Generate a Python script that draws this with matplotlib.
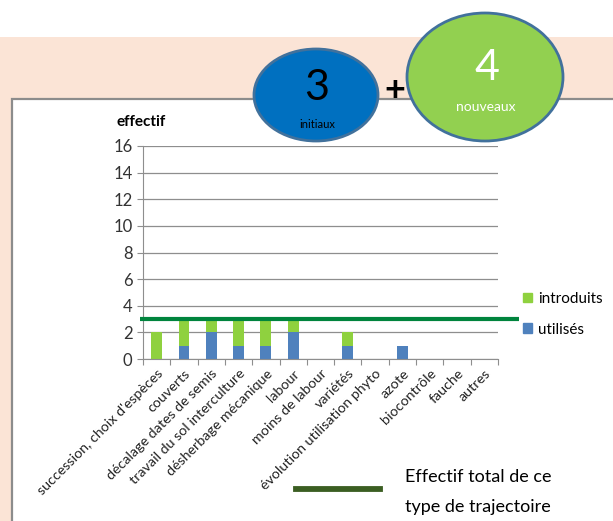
import numpy
from matplotlib import pyplot
from matplotlib import patches
from matplotlib.lines import Line2D

categories = ["succession, choix d'espèces", 'couverts', 'décalage dates de semis',
              'travail du sol interculture', 'désherbage mécanique', 'labour',
              'moins de labour', 'variétés', 'évolution utilisation phyto', 'azote',
              'biocontrôle', 'fauche', 'autres']
utilises = [0, 1, 2, 1, 1, 2, 0, 1, 0, 1, 0, 0, 0]
introduits = [2, 2, 1, 2, 2, 1, 0, 1, 0, 0, 0, 0, 0]
effectif_total = 3
n_initiaux = 3
n_nouveaux = 4
y_ticks = [0, 2, 4, 6, 8, 10, 12, 14, 16]

blue = '#4F81BD'
green = '#8FD13F'
pyplot.rcParams['font.family'] = ['Lato', 'DejaVu Sans']

W, H = 613, 521
fig = pyplot.figure(figsize=(W / 100, H / 100), dpi=100)

# background layer in pixel coordinates
bg = fig.add_axes([0, 0, 1, 1], zorder=0)
bg.set_xlim(0, W)
bg.set_ylim(H, 0)
bg.axis('off')
bg.add_patch(patches.Rectangle((0, 37), W, H, facecolor='#FBE4D6', edgecolor='none'))
bg.add_patch(patches.Rectangle((12, 99), W + 20, H, facecolor='white',
                               edgecolor='#8C8C8C', linewidth=1.6))

# chart
ax = fig.add_axes([143 / W, 1 - 359 / H, 355 / W, 213 / H], zorder=1)
x = numpy.arange(len(categories))
ax.bar(x, utilises, 0.4, color=blue, zorder=2)
ax.bar(x, introduits, 0.4, bottom=utilises, color=green, zorder=2)
ax.plot([-0.61, 13.27], [effectif_total, effectif_total], color='#00843D',
        linewidth=3, clip_on=False, zorder=3, solid_capstyle='butt')

ax.set_xlim(-0.5, len(categories) - 0.5)
ax.set_ylim(0, 16)
ax.set_yticks(y_ticks)
ax.yaxis.grid(True, color='#8E8E8E', linewidth=0.9)
ax.set_axisbelow(True)
for side in ['top', 'right']:
    ax.spines[side].set_visible(False)
for side in ['left', 'bottom']:
    ax.spines[side].set_color('#8E8E8E')
ax.tick_params(axis='y', colors='#8E8E8E', labelcolor='#333333', labelsize=12, length=4)
ax.set_xticks(numpy.arange(len(categories) + 1) - 0.5)
ax.set_xticklabels([])
ax.tick_params(axis='x', colors='#8E8E8E', length=4)
ax.set_xticks(x, minor=True)
ax.set_xticklabels(categories, minor=True, rotation=45, ha='right',
                   rotation_mode='anchor', fontsize=10.3, color='#222222')
ax.tick_params(axis='x', which='minor', length=0, pad=6)

handles = [patches.Patch(color=green), patches.Patch(color=blue)]
ax.legend(handles, ['introduits', 'utilisés'], loc='center left',
          bbox_to_anchor=(1.07, 0.21), frameon=False, handlelength=0.6,
          handleheight=0.6, handletextpad=0.4, labelspacing=1.1, fontsize=11,
          borderpad=0, borderaxespad=0)

fig.text(141 / W, 1 - 122 / H, 'effectif', ha='center', va='center',
         fontsize=11, fontweight='bold')

# circles
bg.add_patch(patches.Ellipse((316, 95), 124, 92, facecolor='#0070C0',
                             edgecolor='#41719C', linewidth=2, zorder=5))
bg.add_patch(patches.Ellipse((485, 77), 156, 128, facecolor='#92D050',
                             edgecolor='#41719C', linewidth=2, zorder=5))
bg.text(317, 88, str(n_initiaux), ha='center', va='center', fontsize=31, zorder=6)
bg.text(317, 124, 'initiaux', ha='center', va='center', fontsize=8, zorder=6)
bg.text(487, 68, str(n_nouveaux), ha='center', va='center', fontsize=31,
        color='white', zorder=6)
bg.text(486, 107, 'nouveaux', ha='center', va='center', fontsize=10,
        color='white', zorder=6)
bg.text(395, 90, '+', ha='center', va='center', fontsize=26, fontweight='bold', zorder=6)

# total line legend
bg.add_line(Line2D([296, 380], [489, 489], color='#3B5E22', linewidth=4.2))
bg.text(405, 477, 'Effectif total de ce', ha='left', va='center', fontsize=13)
bg.text(405, 507, 'type de trajectoire', ha='left', va='center', fontsize=13)

fig.savefig('out.png', dpi=100)
